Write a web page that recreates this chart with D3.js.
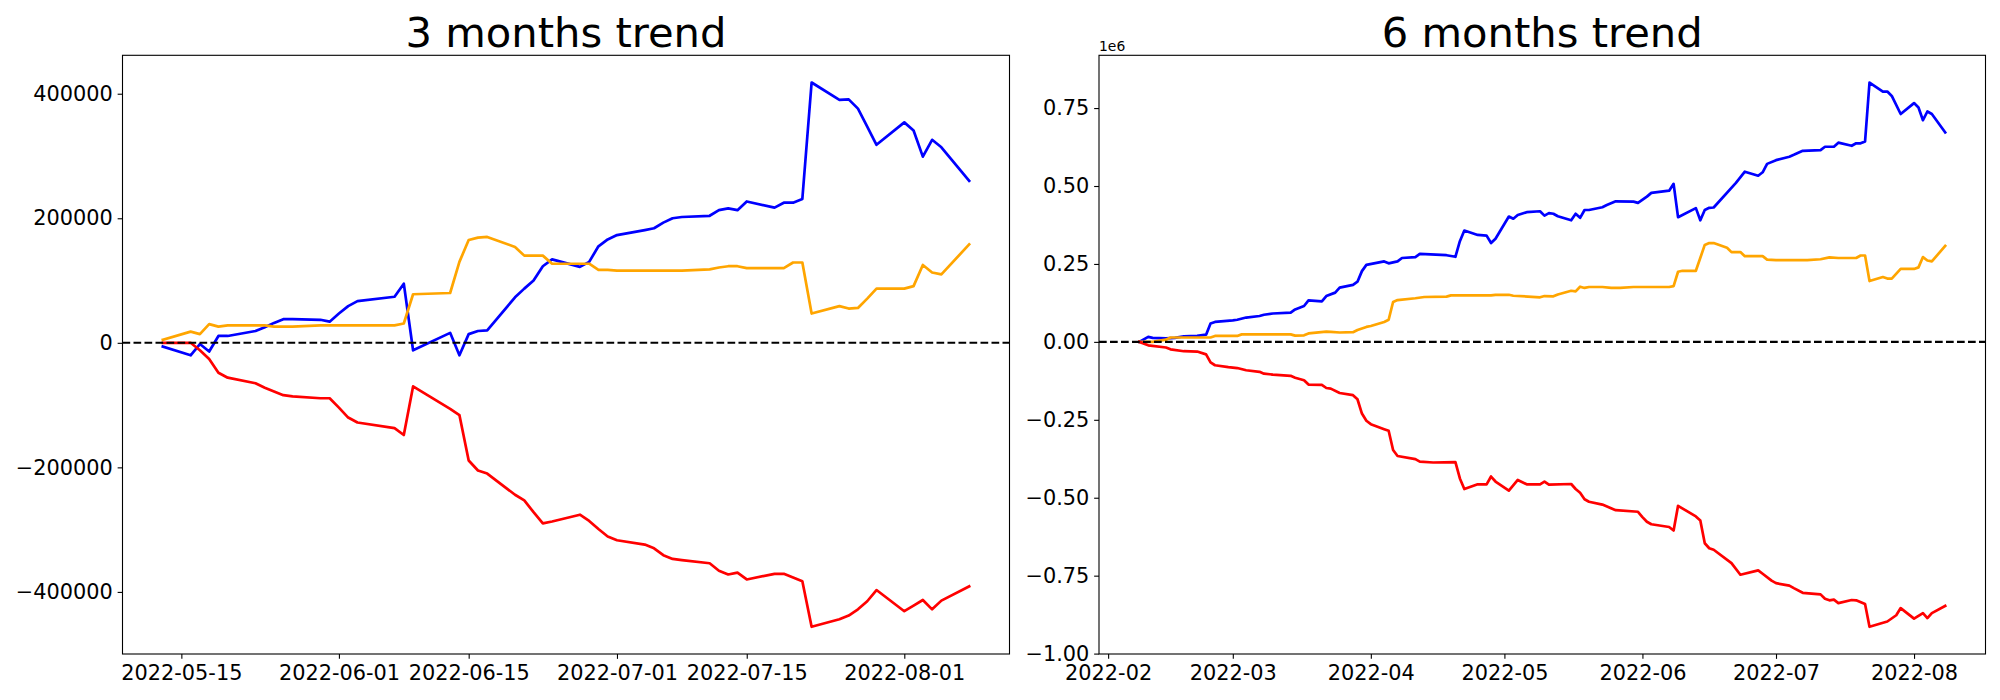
<!DOCTYPE html>
<html>
<head>
<meta charset="utf-8">
<script src="https://cdn.jsdelivr.net/npm/d3@7"></script>
<style>
  html, body { margin: 0; padding: 0; background: #fff; }
  svg { display: block; }
  text { font-family: "DejaVu Sans", sans-serif; fill: #000; }
</style>
</head>
<body>
<svg id="chart" width="2000" height="700"></svg>
<script>
// ---------- 3 months panel ----------
const titles = ["3 months trend", "6 months trend"];
const dates3 = ["2022-05-13","2022-05-16","2022-05-17","2022-05-18","2022-05-19","2022-05-20",
  "2022-05-23","2022-05-24","2022-05-25","2022-05-26","2022-05-27",
  "2022-05-30","2022-05-31","2022-06-01","2022-06-02","2022-06-03",
  "2022-06-07","2022-06-08","2022-06-09",
  "2022-06-13","2022-06-14","2022-06-15","2022-06-16","2022-06-17",
  "2022-06-20","2022-06-21","2022-06-22","2022-06-23","2022-06-24",
  "2022-06-27","2022-06-28","2022-06-29","2022-06-30","2022-07-01",
  "2022-07-04","2022-07-05","2022-07-06","2022-07-07","2022-07-08",
  "2022-07-11","2022-07-12","2022-07-13","2022-07-14","2022-07-15",
  "2022-07-18","2022-07-19","2022-07-20","2022-07-21","2022-07-22",
  "2022-07-25","2022-07-26","2022-07-27","2022-07-28","2022-07-29",
  "2022-08-01","2022-08-02","2022-08-03","2022-08-04","2022-08-05",
  "2022-08-08"];
const blue3 = [-6000,-20000,-2000,-14000,11000,11000,
  19000,25000,32000,38000,38000,
  37000,34000,47000,59000,67000,
  74000,95000,-12000,
  16000,-20000,14000,19000,20000,
  73000,87000,100000,123000,134000,
  122000,130000,155000,166000,173000,
  181000,184000,193000,200000,202000,
  204000,213000,216000,213000,227000,
  217000,225000,225000,231000,418000,
  390000,391000,376000,347000,318000,
  354000,341000,299000,326000,314000,
  260000];
const orange3 = [5000,18000,14000,30000,26000,28000,
  28000,28000,26000,26000,26000,
  28000,28000,28000,28000,28000,
  28000,31000,78000,
  80000,130000,165000,169000,170000,
  154000,140000,140000,140000,127000,
  127000,127000,117000,117000,116000,
  116000,116000,116000,116000,116000,
  118000,121000,123000,123000,120000,
  120000,120000,129000,129000,47000,
  59000,55000,56000,71000,87000,
  87000,91000,125000,113000,110000,
  158000];
const red3 = [0,0,-12000,-26000,-48000,-56000,
  -65000,-72000,-78000,-84000,-86000,
  -89000,-89000,-104000,-120000,-128000,
  -137000,-148000,-70000,
  -106000,-116000,-189000,-205000,-210000,
  -244000,-253000,-272000,-290000,-287000,
  -276000,-286000,-299000,-311000,-317000,
  -324000,-330000,-341000,-347000,-349000,
  -354000,-366000,-372000,-369000,-380000,
  -371000,-371000,-377000,-383000,-456000,
  -444000,-438000,-428000,-415000,-397000,
  -431000,-422000,-413000,-428000,-414000,
  -391000];
const xTicks3 = ["2022-05-15","2022-06-01","2022-06-15","2022-07-01","2022-07-15","2022-08-01"];
const yTicks3 = [-400000,-200000,0,200000,400000];

// ---------- 6 months panel (values in units of 1e6) ----------
const blueDates6 = ["2022-02-08","2022-02-10","2022-02-11","2022-02-14","2022-02-16","2022-02-18","2022-02-21","2022-02-23","2022-02-24","2022-02-25",
  "2022-03-01","2022-03-02","2022-03-04","2022-03-07","2022-03-08","2022-03-10","2022-03-14","2022-03-15","2022-03-17","2022-03-18",
  "2022-03-21","2022-03-22","2022-03-24","2022-03-25","2022-03-28","2022-03-29","2022-03-30","2022-03-31",
  "2022-04-04","2022-04-05","2022-04-07","2022-04-08","2022-04-11","2022-04-12","2022-04-18","2022-04-20","2022-04-21","2022-04-22",
  "2022-04-25","2022-04-27","2022-04-28","2022-04-29","2022-05-02","2022-05-03","2022-05-04","2022-05-06","2022-05-09","2022-05-10",
  "2022-05-11","2022-05-12","2022-05-13","2022-05-16","2022-05-17","2022-05-18","2022-05-19","2022-05-20","2022-05-23","2022-05-24",
  "2022-05-26","2022-05-30","2022-05-31","2022-06-02","2022-06-03","2022-06-07","2022-06-08","2022-06-09","2022-06-13","2022-06-14",
  "2022-06-15","2022-06-16","2022-06-17","2022-06-22","2022-06-24","2022-06-27","2022-06-28","2022-06-29","2022-07-01","2022-07-04",
  "2022-07-05","2022-07-07","2022-07-11","2022-07-12","2022-07-14","2022-07-15","2022-07-18","2022-07-19","2022-07-20","2022-07-21",
  "2022-07-22","2022-07-25","2022-07-26","2022-07-27","2022-07-29","2022-08-01","2022-08-02","2022-08-03","2022-08-04","2022-08-05",
  "2022-08-08"];
const blue6 = [0.000,0.016,0.013,0.011,0.013,0.018,0.019,0.023,0.059,0.064,
  0.069,0.071,0.078,0.083,0.087,0.091,0.094,0.104,0.115,0.133,
  0.130,0.147,0.158,0.174,0.183,0.193,0.227,0.247,
  0.258,0.252,0.258,0.269,0.272,0.282,0.278,0.273,0.323,0.357,
  0.343,0.341,0.317,0.331,0.402,0.395,0.407,0.416,0.419,0.405,
  0.413,0.411,0.403,0.390,0.411,0.398,0.423,0.423,0.432,0.439,
  0.451,0.450,0.446,0.466,0.478,0.485,0.507,0.400,0.429,0.390,
  0.423,0.430,0.431,0.510,0.546,0.533,0.544,0.571,0.583,0.594,
  0.600,0.613,0.615,0.626,0.626,0.639,0.629,0.637,0.637,0.643,
  0.832,0.803,0.803,0.789,0.731,0.766,0.752,0.711,0.739,0.731,
  0.672];
const orangeDates6 = ["2022-02-08","2022-02-11","2022-02-14","2022-02-15","2022-02-18","2022-02-24","2022-02-25",
  "2022-03-02","2022-03-03","2022-03-08","2022-03-14","2022-03-15","2022-03-17","2022-03-18","2022-03-22","2022-03-23",
  "2022-03-25","2022-03-28","2022-03-29","2022-03-31","2022-04-01","2022-04-04","2022-04-05","2022-04-06","2022-04-07",
  "2022-04-11","2022-04-13","2022-04-18","2022-04-19","2022-04-28","2022-04-29","2022-05-02","2022-05-03","2022-05-09",
  "2022-05-10","2022-05-12","2022-05-13","2022-05-16","2022-05-17","2022-05-18","2022-05-19","2022-05-20","2022-05-23",
  "2022-05-25","2022-05-27","2022-05-30","2022-06-07","2022-06-08","2022-06-09","2022-06-10","2022-06-13","2022-06-15",
  "2022-06-16","2022-06-17","2022-06-20","2022-06-21","2022-06-23","2022-06-24","2022-06-28","2022-06-29","2022-07-01",
  "2022-07-08","2022-07-11","2022-07-13","2022-07-15","2022-07-19","2022-07-20","2022-07-21","2022-07-22","2022-07-25",
  "2022-07-26","2022-07-27","2022-07-29","2022-08-01","2022-08-02","2022-08-03","2022-08-04","2022-08-05","2022-08-08"];
const orange6 = [0.000,0.000,0.007,0.014,0.014,0.014,0.019,
  0.019,0.024,0.024,0.024,0.020,0.021,0.027,0.033,0.032,
  0.030,0.031,0.038,0.048,0.051,0.064,0.071,0.128,0.134,
  0.140,0.144,0.145,0.149,0.149,0.151,0.151,0.148,0.143,
  0.147,0.146,0.152,0.164,0.162,0.177,0.173,0.176,0.176,
  0.173,0.173,0.176,0.176,0.179,0.225,0.228,0.228,0.311,
  0.317,0.317,0.302,0.288,0.288,0.275,0.275,0.264,0.262,
  0.262,0.265,0.271,0.269,0.269,0.277,0.277,0.195,0.208,
  0.203,0.203,0.234,0.234,0.239,0.272,0.261,0.258,0.308];
const redDates6 = ["2022-02-08","2022-02-10","2022-02-14","2022-02-15","2022-02-18","2022-02-21","2022-02-23","2022-02-24","2022-02-25","2022-02-28",
  "2022-03-02","2022-03-04","2022-03-07","2022-03-08","2022-03-10","2022-03-14","2022-03-15","2022-03-17","2022-03-18","2022-03-21",
  "2022-03-22","2022-03-23","2022-03-25","2022-03-28","2022-03-29","2022-03-30","2022-03-31","2022-04-01","2022-04-04","2022-04-05",
  "2022-04-06","2022-04-07","2022-04-11","2022-04-12","2022-04-15","2022-04-20","2022-04-21","2022-04-22","2022-04-25","2022-04-27",
  "2022-04-28","2022-04-29","2022-05-02","2022-05-04","2022-05-06","2022-05-09","2022-05-10","2022-05-11","2022-05-16","2022-05-17",
  "2022-05-18","2022-05-19","2022-05-20","2022-05-23","2022-05-26","2022-05-31","2022-06-01","2022-06-02","2022-06-03","2022-06-07",
  "2022-06-08","2022-06-09","2022-06-13","2022-06-14","2022-06-15","2022-06-16","2022-06-17","2022-06-21","2022-06-23","2022-06-27",
  "2022-06-28","2022-06-30","2022-07-01","2022-07-04","2022-07-05","2022-07-07","2022-07-11","2022-07-12","2022-07-13","2022-07-14",
  "2022-07-15","2022-07-18","2022-07-19","2022-07-21","2022-07-22","2022-07-26","2022-07-28","2022-07-29","2022-08-01","2022-08-03",
  "2022-08-04","2022-08-05","2022-08-08"];
const red6 = [0.000,-0.011,-0.018,-0.024,-0.030,-0.031,-0.040,-0.066,-0.075,-0.081,
  -0.084,-0.091,-0.096,-0.102,-0.105,-0.109,-0.115,-0.123,-0.137,-0.138,
  -0.148,-0.150,-0.164,-0.171,-0.184,-0.230,-0.253,-0.264,-0.280,-0.285,
  -0.347,-0.366,-0.376,-0.384,-0.387,-0.386,-0.438,-0.472,-0.457,-0.457,
  -0.432,-0.448,-0.477,-0.443,-0.457,-0.457,-0.448,-0.458,-0.456,-0.472,
  -0.484,-0.505,-0.513,-0.522,-0.540,-0.545,-0.562,-0.577,-0.585,-0.594,
  -0.605,-0.526,-0.560,-0.573,-0.646,-0.662,-0.667,-0.710,-0.747,-0.733,
  -0.744,-0.766,-0.774,-0.782,-0.790,-0.805,-0.810,-0.824,-0.829,-0.827,
  -0.838,-0.828,-0.829,-0.841,-0.914,-0.897,-0.877,-0.854,-0.888,-0.870,
  -0.886,-0.870,-0.847];
const xTicks6 = ["2022-02-01","2022-03-01","2022-04-01","2022-05-01","2022-06-01","2022-07-01","2022-08-01"];
const yTicks6 = [-1.00,-0.75,-0.50,-0.25,0.00,0.25,0.50,0.75];
const seriesColors = ["#0000ff", "#ffa500", "#ff0000"];

// ---------- drawing ----------
const parse = d3.utcParse("%Y-%m-%d");
const svg = d3.select("#chart");
svg.append("rect").attr("width", 2000).attr("height", 700).attr("fill", "#fff");

const TOP = 55.3, BOTTOM = 654;
const TICK_FONT = 20.83;

function pad(ext) {
  const a = +ext[0], b = +ext[1], m = (b - a) * 0.05;
  return [a - m, b + m];
}

function drawPanel(cfg) {
  const g = svg.append("g");
  const allDates = cfg.series.flatMap(s => s.dates.map(parse));
  const allVals = cfg.series.flatMap(s => s.values);
  const xd = pad(d3.extent(allDates));
  const x = d3.scaleUtc().domain([new Date(xd[0]), new Date(xd[1])]).range([cfg.x0, cfg.x1]);
  const y = d3.scaleLinear().domain(pad(d3.extent(allVals))).range([BOTTOM, TOP]);

  const clipId = "clip" + cfg.id;
  svg.append("clipPath").attr("id", clipId).append("rect")
    .attr("x", cfg.x0).attr("y", TOP).attr("width", cfg.x1 - cfg.x0).attr("height", BOTTOM - TOP);

  const plot = g.append("g").attr("clip-path", `url(#${clipId})`);
  cfg.series.forEach((s, i) => {
    const pts = s.dates.map((d, k) => [parse(d), s.values[k]]);
    plot.append("path")
      .attr("d", d3.line().x(p => x(p[0])).y(p => y(p[1]))(pts))
      .attr("fill", "none")
      .attr("stroke", seriesColors[i])
      .attr("stroke-width", 2.7)
      .attr("stroke-linejoin", "round")
      .attr("stroke-linecap", "square");
  });
  // zero line
  plot.append("line")
    .attr("x1", cfg.x0).attr("x2", cfg.x1)
    .attr("y1", y(0)).attr("y2", y(0))
    .attr("stroke", "#000").attr("stroke-width", 2.08)
    .attr("stroke-dasharray", "7.7,3.3");

  // axes
  const xAxis = d3.axisBottom(x).tickValues(cfg.xTicks.map(parse))
    .tickFormat(cfg.xFormat).tickSize(4.86).tickSizeOuter(0).tickPadding(4.86);
  const yAxis = d3.axisLeft(y).tickValues(cfg.yTicks)
    .tickFormat(cfg.yFormat).tickSize(4.86).tickSizeOuter(0).tickPadding(4.86);

  const gx = g.append("g").attr("transform", `translate(0,${BOTTOM})`).call(xAxis);
  const gy = g.append("g").attr("transform", `translate(${cfg.x0},0)`).call(yAxis);
  [gx, gy].forEach(a => {
    a.select(".domain").remove();
    a.selectAll(".tick line").attr("stroke", "#000").attr("stroke-width", 1.1);
    a.selectAll(".tick text").attr("font-size", TICK_FONT)
      .attr("font-family", "DejaVu Sans").attr("fill", "#000");
  });
  gx.selectAll(".tick text").attr("dy", "0.76em");

  // frame (spines)
  g.append("rect")
    .attr("x", cfg.x0).attr("y", TOP)
    .attr("width", cfg.x1 - cfg.x0).attr("height", BOTTOM - TOP)
    .attr("fill", "none").attr("stroke", "#000").attr("stroke-width", 1.1);

  // title
  g.append("text")
    .attr("x", (cfg.x0 + cfg.x1) / 2).attr("y", 46.7)
    .attr("text-anchor", "middle")
    .attr("font-size", 41.67)
    .text(cfg.title);

  if (cfg.offsetText) {
    g.append("text")
      .attr("x", cfg.x0).attr("y", 50.5)
      .attr("text-anchor", "start")
      .attr("font-size", 13.9)
      .text(cfg.offsetText);
  }
}

drawPanel({
  id: 1, x0: 122.5, x1: 1009.5, title: titles[0],
  series: [
    { dates: dates3, values: blue3 },
    { dates: dates3, values: orange3 },
    { dates: dates3, values: red3 }
  ],
  xTicks: xTicks3, xFormat: d3.utcFormat("%Y-%m-%d"),
  yTicks: yTicks3, yFormat: d3.format("d")
});

drawPanel({
  id: 2, x0: 1099, x1: 1985.5, title: titles[1],
  series: [
    { dates: blueDates6, values: blue6 },
    { dates: orangeDates6, values: orange6 },
    { dates: redDates6, values: red6 }
  ],
  xTicks: xTicks6, xFormat: d3.utcFormat("%Y-%m"),
  yTicks: yTicks6, yFormat: d3.format(".2f"),
  offsetText: "1e6"
});
</script>
</body>
</html>
